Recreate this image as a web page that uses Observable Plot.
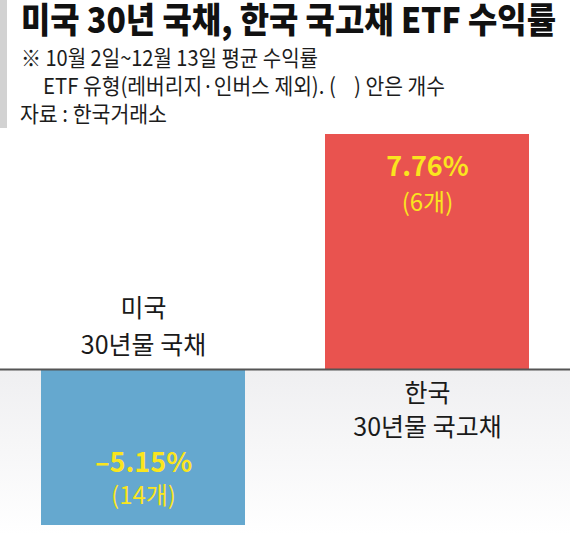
<!DOCTYPE html>
<html>
<head>
<meta charset="utf-8">
<script src="https://cdn.jsdelivr.net/npm/d3@7"></script>
<script src="https://cdn.jsdelivr.net/npm/@observablehq/plot@0.6"></script>
<style>
  html, body { margin: 0; padding: 0; background: #fff; }
  body { width: 570px; height: 535px; overflow: hidden; font-family: "Noto Sans CJK KR", "Noto Sans", sans-serif; }
  #header { position: relative; width: 570px; height: 130px; }
  #bar { position: absolute; left: 0; top: 0; width: 7px; height: 128px; background: #d2d2d2; }
  .ln { position: absolute; white-space: nowrap; transform-origin: 0 50%; }
  #title { left: 21px; top: 0px; font-size: 35px; line-height: 35px; font-weight: 900; color: #111; }
  .sub { font-size: 22px; line-height: 22px; color: #1c1c1c; }
  #s1 { left: 21px; top: 45px; }
  #s2 { left: 43px; top: 73px; }
  #s3 { left: 20px; top: 101px; }
  #chart svg { display: block; }
</style>
</head>
<body>
<div id="header">
  <div id="bar"></div>
  <div id="title" class="ln" data-w="535">미국 30년 국채, 한국 국고채 ETF 수익률</div>
  <div id="s1" class="ln sub" data-w="297">※ 10월 2일~12월 13일 평균 수익률</div>
  <div id="s2" class="ln sub" data-w="402">ETF 유형(레버리지·인버스 제외). (&nbsp;&nbsp;&nbsp;&nbsp;) 안은 개수</div>
  <div id="s3" class="ln sub" data-w="147">자료 : 한국거래소</div>
</div>
<div id="chart"></div>
<script>
// ---- data ----
const categories = ["미국 30년물 국채", "한국 30년물 국고채"];
const catLine1 = ["미국", "한국"];
const catLine2 = ["30년물 국채", "30년물 국고채"];
const values = [-5.15, 7.76];
const counts = [14, 6];
const barColors = ["#65a8cf", "#e9534f"];

const data = categories.map((c, i) => ({
  cat: c, line1: catLine1[i], line2: catLine2[i],
  value: values[i], count: counts[i], color: barColors[i]
}));

const yellow = "#fae51e";
const font = "Noto Sans CJK KR, Noto Sans, sans-serif";
const fmt = v => (v < 0 ? "\u2013" : "") + Math.abs(v).toFixed(2) + "%";

// fit header lines to reference widths
document.querySelectorAll(".ln").forEach(el => {
  const w = el.getBoundingClientRect().width;
  const target = +el.dataset.w;
  el.style.transform = `scaleX(${target / w})`;
});

const defs = () => {
  const g = d3.create("svg:defs");
  const lg = g.append("linearGradient").attr("id", "below").attr("x1", 0).attr("x2", 0).attr("y1", 0).attr("y2", 1);
  lg.append("stop").attr("offset", "0%").attr("stop-color", "#efeff1");
  lg.append("stop").attr("offset", "100%").attr("stop-color", "#ffffff");
  return g.node();
};

const chart = Plot.plot({
  width: 570,
  height: 405,
  marginTop: 4,
  marginBottom: 10,
  marginLeft: 0,
  marginRight: 0,
  style: { fontFamily: font, background: "transparent", overflow: "visible" },
  x: { domain: categories, range: [40, 530], paddingInner: 0.2807, paddingOuter: 0, axis: null },
  y: { domain: d3.extent(values), axis: null },
  color: { type: "identity" },
  marks: [
    defs,
    Plot.rectY([{ a: 0, b: d3.min(values) }], { y1: "a", y2: "b", fill: "url(#below)", insetBottom: -10 }),
    Plot.barY(data, { x: "cat", y: "value", fill: "color" }),
    // value labels – positive bar
    Plot.text(data, { filter: d => d.value > 0, x: "cat", y: "value", text: d => fmt(d.value), dy: 33, fill: yellow, fontSize: 27, fontWeight: 700 }),
    Plot.text(data, { filter: d => d.value > 0, x: "cat", y: "value", text: d => `(${d.count}개)`, dy: 69, fill: yellow, fontSize: 24 }),
    // value labels – negative bar
    Plot.text(data, { filter: d => d.value < 0, x: "cat", y: "value", text: d => fmt(d.value), dy: -62, fill: yellow, fontSize: 27, fontWeight: 700 }),
    Plot.text(data, { filter: d => d.value < 0, x: "cat", y: "value", text: d => `(${d.count}개)`, dy: -29, fill: yellow, fontSize: 24 }),
    // category labels
    Plot.text(data, { filter: d => d.value < 0, x: "cat", y: () => 0, text: "line1", dy: -60.5, fill: "#1a1a1a", fontSize: 25 }),
    Plot.text(data, { filter: d => d.value < 0, x: "cat", y: () => 0, text: "line2", dy: -24, fill: "#1a1a1a", fontSize: 25 }),
    Plot.text(data, { filter: d => d.value > 0, x: "cat", y: () => 0, text: "line1", dy: 24, fill: "#1a1a1a", fontSize: 25 }),
    Plot.text(data, { filter: d => d.value > 0, x: "cat", y: () => 0, text: "line2", dy: 58.5, fill: "#1a1a1a", fontSize: 25 }),
    Plot.ruleY([0], { stroke: "#555", strokeWidth: 2 })
  ]
});
document.getElementById("chart").appendChild(chart);
</script>
</body>
</html>
